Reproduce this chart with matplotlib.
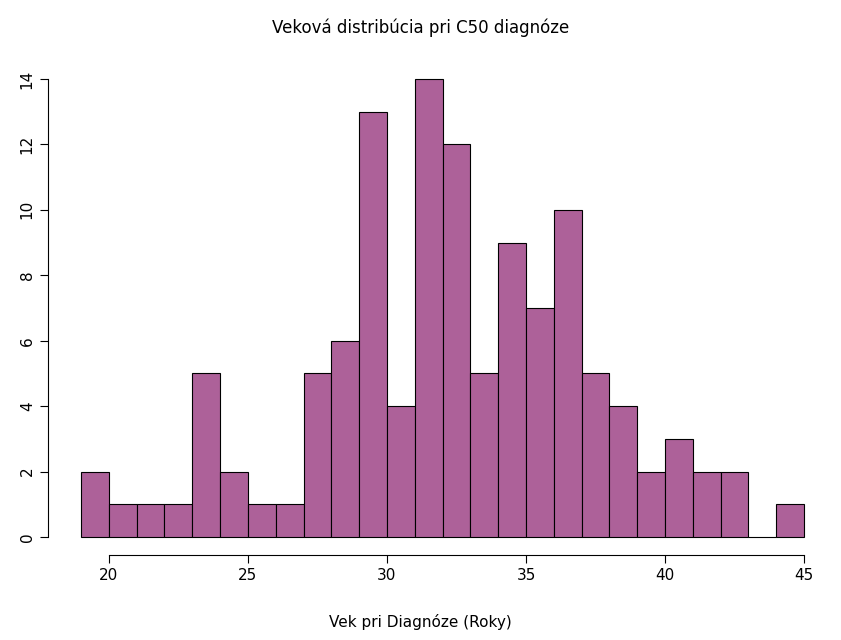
import matplotlib.pyplot as plt
import numpy as np

edges = np.arange(19, 46)
counts = [2, 1, 1, 1, 5, 2, 1, 1, 5, 6, 13, 4, 14, 12, 5, 9, 7, 10, 5, 4, 2, 3, 2, 2, 0, 1]

W, H = 841, 640
fig = plt.figure(figsize=(W / 100, H / 100), dpi=100)
ax = fig.add_axes([48 / W, 1 - 555 / H, (818 - 48) / W, (555 - 61) / H])

ax.bar(edges[:-1], counts, width=1, align='edge', color='#ad6199', edgecolor='black', linewidth=0.8)

ax.set_xlim(19 - 33 / 27.76, 45.5)
ax.set_ylim(-18 / 32.71, 14 + 18 / 32.71)
for s in ['top', 'right']:
    ax.spines[s].set_visible(False)
ax.spines['left'].set_bounds(0, 14)
ax.spines['bottom'].set_bounds(20, 45)
ax.set_xticks([20, 25, 30, 35, 40, 45])
ax.set_yticks(range(0, 15, 2))
ax.tick_params(labelsize=11, length=6)
plt.setp(ax.get_yticklabels(), rotation=90, va='center')

fig.text(0.5, 1 - 28 / H, 'Veková distribúcia pri C50 diagnóze', ha='center', va='center', fontsize=12)
fig.text(0.5, 1 - 622 / H, 'Vek pri Diagnóze (Roky)', ha='center', va='center', fontsize=11)

plt.savefig('out.png', dpi=100)
